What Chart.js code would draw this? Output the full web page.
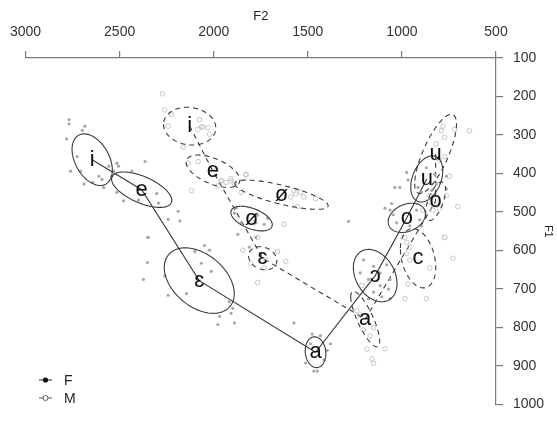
<!DOCTYPE html>
<html>
<head>
<meta charset="utf-8">
<script src="https://cdn.jsdelivr.net/npm/chart.js@4"></script>
<style>
  html, body { margin: 0; padding: 0; background: #fff; }
  #wrap { width: 557px; height: 423px; }
</style>
</head>
<body>
<div id="wrap"><canvas id="chart" width="557" height="423"></canvas></div>
<script>
// vowel order used by every table below
const vowels = ["i", "e", "ø", "ɛ", "a", "ɔ", "o", "u"];

// centroids (Hz)
const femaleF2 = [2646, 2383, 1799, 2077, 1459, 1142, 974, 868];
const femaleF1 = [364, 442, 517, 678, 864, 665, 515, 414];
const maleF2 = [2128, 2004, 1640, 1740, 1195, 914, 821, 821];
const maleF1 = [277, 394, 455, 620, 778, 620, 472, 349];

// spread of each vowel: sd of F2, sd of F1, correlation
const femaleSdF2 = [107, 160, 110, 186, 55, 116, 99, 85];
const femaleSdF1 = [67, 46, 32, 85, 40, 68, 38, 60];
const femaleRho = [-0.4, -0.6, -0.5, -0.4, -0.1, -0.3, 0.27, 0.35];
const maleSdF2 = [139, 143, 248, 75, 77, 94, 53, 111];
const maleSdF1 = [49, 42, 38, 30, 72, 77, 50, 103];
const maleRho = [-0.1, -0.55, -0.75, -0.2, -0.8, -0.3, 0.6, 0.75];

// vowel trajectories drawn as lines
const femalePath = ["i", "e", "ɛ", "a", "ɔ", "o", "u"];
const malePath = ["i", "e", "ɛ", "a", "o", "u"];

// individual tokens [F2, F1]
const femaleTokens = [
  [2769, 260], [2769, 271], [2685, 277], [2699, 288], [2782, 310], [2761, 394], [2708, 394],
  [2690, 427], [2643, 423], [2611, 407], [2594, 415], [2585, 436], [2558, 381], [2515, 373],
  [2506, 381], [2532, 394], [2541, 407], [2726, 356],
  [2365, 369], [2515, 449], [2479, 471], [2400, 469], [2303, 452], [2294, 477], [2189, 498],
  [2180, 523], [2242, 519], [2347, 566], [2435, 394],
  [1890, 503], [1855, 528], [1776, 528], [1732, 532], [1714, 516], [1767, 508], [1872, 558],
  [1776, 566], [1811, 591], [1881, 490],
  [2351, 566], [2353, 631], [2374, 675], [2260, 666], [2242, 716], [2145, 712], [2049, 587],
  [2022, 599], [2013, 654], [1917, 733], [1899, 750], [1969, 771], [1978, 792], [1890, 788],
  [1908, 763], [2066, 633], [2101, 603],
  [1477, 817], [1397, 859], [1512, 892], [1468, 913], [1450, 913], [1380, 842], [1486, 842],
  [1433, 821], [1574, 788], [1415, 884],
  [1222, 658], [1178, 675], [1151, 641], [1116, 658], [1081, 637], [1063, 675], [1116, 691],
  [1151, 708], [1072, 700], [1107, 720], [1178, 725], [1063, 725], [1204, 624],
  [1063, 495], [1046, 507], [1028, 528], [922, 495], [905, 520], [1090, 490], [1054, 478],
  [896, 536], [1283, 524], [958, 536],
  [975, 397], [967, 417], [914, 436], [896, 448], [843, 444], [817, 427], [826, 402],
  [870, 385], [1037, 436], [1011, 436], [764, 440], [764, 407]
];
const maleTokens = [
  [2272, 193], [2260, 235], [2224, 247], [2242, 277], [2163, 331], [2075, 260], [2057, 279],
  [2022, 298], [2031, 281], [2066, 279], [2083, 285],
  [2136, 373], [2083, 369], [1960, 418], [1934, 423], [1908, 413], [1890, 427], [1978, 432],
  [1829, 402], [2119, 444], [1987, 390],
  [1960, 419], [1908, 419], [1829, 404], [1855, 449], [1591, 461], [1565, 453], [1538, 449],
  [1521, 461], [1556, 486], [1574, 444], [1459, 465],
  [1846, 599], [1802, 633], [1732, 645], [1661, 603], [1617, 628], [1767, 566], [1723, 624],
  [1767, 683], [1785, 528], [1626, 532],
  [1239, 756], [1204, 806], [1169, 822], [1186, 856], [1160, 881], [1151, 893], [1222, 768],
  [1151, 800], [1090, 855], [1213, 691],
  [984, 566], [975, 579], [958, 591], [975, 608], [958, 625], [967, 687], [852, 645],
  [870, 725], [773, 566], [729, 620], [984, 725],
  [852, 474], [817, 482], [800, 490], [835, 495], [888, 495], [773, 566], [852, 457],
  [782, 277], [791, 289], [773, 306], [817, 323], [720, 285], [641, 289], [747, 407],
  [764, 457], [703, 486], [800, 365], [773, 356]
];

const xTicks = [3000, 2500, 2000, 1500, 1000, 500];
const yTicks = [100, 200, 300, 400, 500, 600, 700, 800, 900, 1000];

const FONT = "'Liberation Sans', Arial, sans-serif";
const INK = "#3a3a3a";
const AXIS = "#7a7a7a";

function pathPoints(path, f2, f1) {
  return path.map(v => {
    const k = vowels.indexOf(v);
    return { x: f2[k], y: f1[k] };
  });
}

const vowelPlugin = {
  id: "vowels",
  afterDatasetsDraw(chart) {
    const ctx = chart.ctx;
    const xs = chart.scales.x, ys = chart.scales.y;

    function ellipse(cx, cy, sx, sy, r, dashed) {
      ctx.save();
      ctx.strokeStyle = INK;
      ctx.lineWidth = 1.1;
      ctx.setLineDash(dashed ? [5, 4] : []);
      ctx.beginPath();
      const q = Math.sqrt(1 - r * r);
      for (let i = 0; i <= 120; i++) {
        const t = i / 120 * Math.PI * 2;
        const px = xs.getPixelForValue(cx + sx * Math.cos(t));
        const py = ys.getPixelForValue(cy + sy * (r * Math.cos(t) + q * Math.sin(t)));
        if (i === 0) ctx.moveTo(px, py); else ctx.lineTo(px, py);
      }
      ctx.closePath();
      ctx.stroke();
      ctx.restore();
    }

    vowels.forEach((v, k) => {
      ellipse(femaleF2[k], femaleF1[k], femaleSdF2[k], femaleSdF1[k], femaleRho[k], false);
      ellipse(maleF2[k], maleF1[k], maleSdF2[k], maleSdF1[k], maleRho[k], true);
    });

    ctx.save();
    ctx.fillStyle = "#111";
    ctx.font = "22px " + FONT;
    ctx.textAlign = "center";
    ctx.textBaseline = "middle";
    vowels.forEach((v, k) => {
      ctx.fillText(v, xs.getPixelForValue(femaleF2[k]), ys.getPixelForValue(femaleF1[k]));
      const mx = xs.getPixelForValue(maleF2[k]), my = ys.getPixelForValue(maleF1[k]);
      if (v === "ɔ") {
        // the male open-o is printed turned round in the source
        ctx.save();
        ctx.translate(mx, my);
        ctx.rotate(Math.PI);
        ctx.fillText(v, 0, 0);
        ctx.restore();
      } else {
        ctx.fillText(v, mx, my);
      }
    });
    ctx.restore();
  },
  afterDraw(chart) {
    // legend, bottom left
    const ctx = chart.ctx;
    ctx.save();
    ctx.strokeStyle = "#222";
    ctx.lineWidth = 1;
    ctx.beginPath();
    ctx.moveTo(39, 380); ctx.lineTo(52, 380);
    ctx.stroke();
    ctx.fillStyle = "#111";
    ctx.beginPath();
    ctx.arc(45.5, 380, 2.6, 0, Math.PI * 2);
    ctx.fill();

    ctx.strokeStyle = "#555";
    ctx.beginPath();
    ctx.moveTo(39, 398); ctx.lineTo(43, 398);
    ctx.moveTo(48, 398); ctx.lineTo(52, 398);
    ctx.stroke();
    ctx.beginPath();
    ctx.arc(45.5, 398, 2.5, 0, Math.PI * 2);
    ctx.stroke();

    ctx.fillStyle = "#222";
    ctx.font = "14px " + FONT;
    ctx.textAlign = "left";
    ctx.textBaseline = "middle";
    ctx.fillText("F", 64, 381);
    ctx.fillText("M", 64, 399);
    ctx.restore();
  }
};

new Chart(document.getElementById("chart"), {
  type: "scatter",
  data: {
    datasets: [
      {
        label: "F tokens",
        data: femaleTokens.map(p => ({ x: p[0], y: p[1] })),
        pointRadius: 1.6,
        pointBackgroundColor: "#a8a8a8",
        pointBorderWidth: 0
      },
      {
        label: "M tokens",
        data: maleTokens.map(p => ({ x: p[0], y: p[1] })),
        pointRadius: 2.3,
        pointBackgroundColor: "rgba(0,0,0,0)",
        pointBorderColor: "#c2c2c2",
        pointBorderWidth: 0.9
      },
      {
        label: "F",
        data: pathPoints(femalePath, femaleF2, femaleF1),
        showLine: true,
        borderColor: INK,
        borderWidth: 1.1,
        pointRadius: 0
      },
      {
        label: "M",
        data: pathPoints(malePath, maleF2, maleF1),
        showLine: true,
        borderColor: INK,
        borderWidth: 1.1,
        borderDash: [5, 4],
        pointRadius: 0
      }
    ]
  },
  options: {
    responsive: false,
    animation: false,
    layout: { padding: { left: 23, right: 0, top: 0, bottom: 7 } },
    plugins: {
      legend: { display: false },
      tooltip: { enabled: false }
    },
    scales: {
      x: {
        type: "linear",
        position: "top",
        reverse: true,
        min: 500,
        max: 3000,
        afterBuildTicks: s => { s.ticks = xTicks.map(v => ({ value: v })); },
        afterFit: s => { s.height = 58; },
        ticks: {
          color: "#333",
          font: { family: FONT, size: 14 },
          padding: 10,
          maxRotation: 0,
          autoSkip: false,
          callback: v => String(v)
        },
        grid: { drawOnChartArea: false, drawTicks: true, tickLength: 7, color: AXIS, lineWidth: 1.2 },
        border: { display: true, color: AXIS, width: 1.2 },
        title: {
          display: true,
          text: "F2",
          color: "#222",
          font: { family: FONT, size: 13 },
          padding: { top: 9, bottom: 0 }
        }
      },
      y: {
        type: "linear",
        position: "right",
        reverse: true,
        min: 100,
        max: 1000,
        afterBuildTicks: s => { s.ticks = yTicks.map(v => ({ value: v })); },
        afterFit: s => { s.width = 61; },
        ticks: {
          color: "#333",
          font: { family: FONT, size: 14 },
          padding: 10,
          autoSkip: false,
          callback: v => String(v)
        },
        grid: { drawOnChartArea: false, drawTicks: true, tickLength: 7, color: AXIS, lineWidth: 1.2 },
        border: { display: true, color: AXIS, width: 1.2 },
        title: {
          display: true,
          text: "F1",
          color: "#222",
          font: { family: FONT, size: 11 },
          padding: 2
        }
      }
    }
  },
  plugins: [vowelPlugin]
});
</script>
</body>
</html>
